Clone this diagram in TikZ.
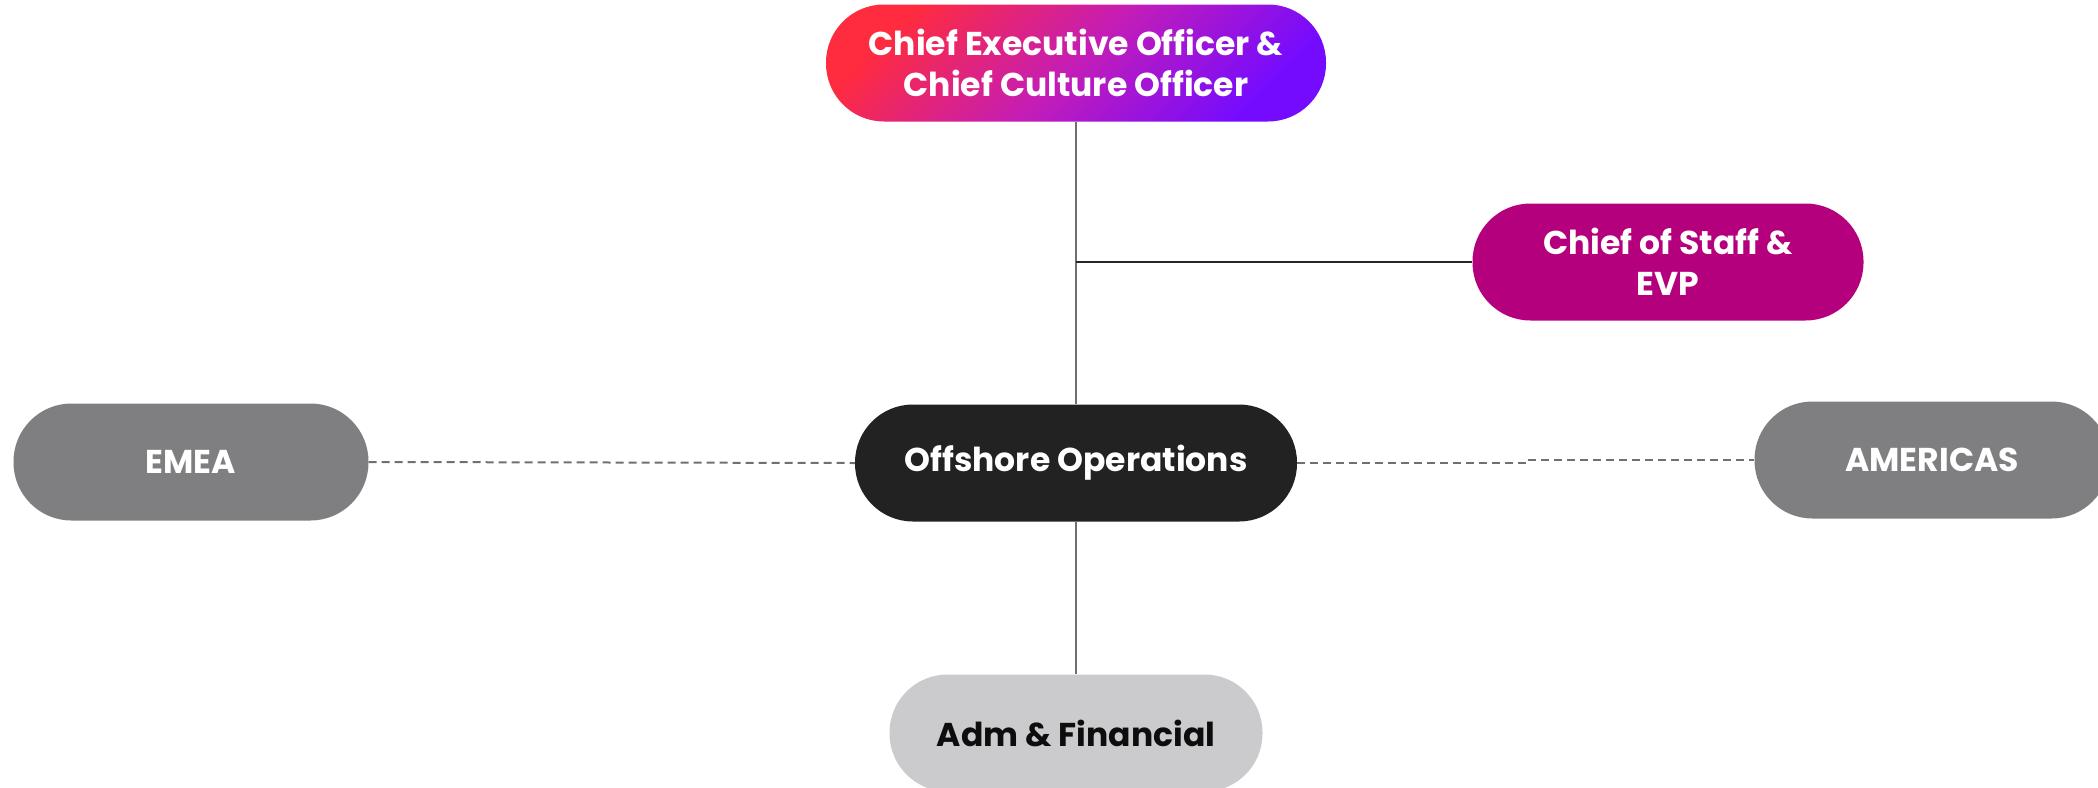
\documentclass[tikz,border=0pt]{standalone}
\usepackage{fontspec}
\setmainfont{Poppins}
\definecolor{ceoRed}{HTML}{FF2B3E}
\definecolor{ceoMid}{HTML}{C41DB7}
\definecolor{ceoPurple}{HTML}{740BFF}
\definecolor{staffC}{HTML}{B5007E}
\definecolor{regionC}{HTML}{7F7F81}
\definecolor{offC}{HTML}{222222}
\definecolor{admC}{HTML}{CBCBCD}
\definecolor{lineC}{HTML}{707070}
\begin{document}
\begin{tikzpicture}[x=1pt,y=-1pt,
  pill/.style={rectangle, rounded corners=58pt, minimum height=117pt, inner sep=0pt,
    align=center, text=white, font=\fontsize{33}{41}\selectfont\bfseries},
  solidlink/.style={draw=lineC, line width=2pt},
  darklink/.style={draw=black!85, line width=2pt},
  dashlink/.style={draw=lineC, line width=2pt, dash pattern=on 8pt off 5pt}]
\useasboundingbox (0,0) rectangle (2098,787);
\node[pill, minimum width=500pt, top color=ceoRed, bottom color=ceoPurple, middle color=ceoMid, shading angle=45] (ceo) at (1076,63) {Chief Executive Officer \&\\Chief Culture Officer};
\node[pill, minimum width=391pt, fill=staffC] (staff) at (1668,262) {Chief of Staff \&\\EVP};
\node[pill, minimum width=355pt, fill=regionC] (emea) at (191,462) {EMEA};
\node[pill, minimum width=442pt, fill=offC] (off) at (1076,463) {Offshore Operations};
\node[pill, minimum width=355pt, fill=regionC] (am) at (1932,460) {AMERICAS};
\node[pill, minimum width=373pt, fill=admC, text=black!95] (adm) at (1076,733) {Adm \& Financial};
\coordinate (branch) at (ceo.south |- staff.west);
\coordinate (jog) at (1525,463);
\draw[solidlink] (ceo.south) -- (off.north);
\draw[darklink] (branch) -- (staff.west);
\draw[solidlink] (off.south) -- (adm.north);
\draw[dashlink] (emea.east) -- (off.west);
\draw[dashlink] (off.east) -- (jog) |- (am.west);
\end{tikzpicture}
\end{document}
